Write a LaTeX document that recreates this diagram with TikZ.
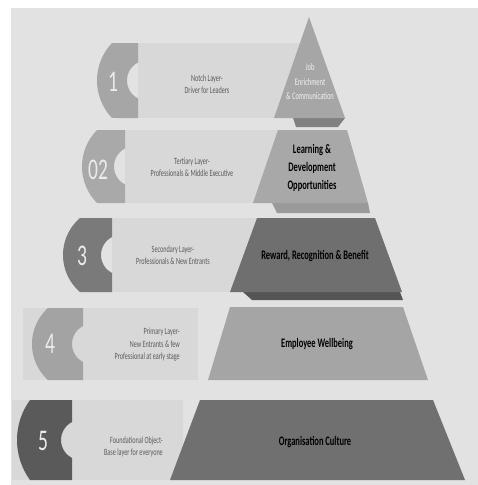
\documentclass[tikz,border=0pt]{standalone}
\usepackage{fontspec}
\setmainfont[FakeStretch=0.65]{Carlito}
\definecolor{bgc}{HTML}{E2E2E2}
\definecolor{boxc}{HTML}{D8D8D8}
\definecolor{tabA}{HTML}{A6A6A6}
\definecolor{tabB}{HTML}{A9A9A9}
\definecolor{tabC}{HTML}{7A7A7A}
\definecolor{tabD}{HTML}{A3A3A3}
\definecolor{tabE}{HTML}{5A5A5A}
\definecolor{layA}{HTML}{A6A6A6}
\definecolor{layB}{HTML}{A8A8A8}
\definecolor{layC}{HTML}{6F6F6F}
\definecolor{layD}{HTML}{A5A5A5}
\definecolor{layE}{HTML}{707070}
\definecolor{shA}{HTML}{808080}
\definecolor{shB}{HTML}{9A9A9A}
\definecolor{shC}{HTML}{555555}
\definecolor{smalltxt}{HTML}{5A5A5A}
\newcommand\mytab[6]{%
  \pgfmathsetmacro\tabH{(#4-#3)/2}%
  \pgfmathsetmacro\tabR{(\tabH*\tabH+#5*#5)/(2*#5)}%
  \pgfmathsetmacro\tabP{asin(\tabH/\tabR)}%
  \pgfmathsetmacro\tabM{-(#3+#4)/2}%
  \fill[#6] (#2,-#3) -- ({#1+#5},-#3)
    arc[start angle={180-\tabP}, end angle={180+\tabP}, radius=\tabR pt]
    -- (#2,-#4) -- (#2,\tabM-18)
    arc[start angle=243, end angle=117, radius=20.2pt] -- cycle;
}
\tikzset{
  numtxt/.style={text=white!92!black, font=\fontsize{30}{30}\selectfont, inner sep=0pt},
  smalltx/.style={text=smalltxt, font=\fontsize{9.5}{12.5}\selectfont, align=center, inner sep=0pt},
  smallr/.style={smalltx, align=right, anchor=east},
  boldtx/.style={text=black, font=\fontsize{13}{18}\selectfont\bfseries, align=center, inner sep=0pt},
  tritx/.style={text=white!95!black, font=\fontsize{10}{14.5}\selectfont, align=center, inner sep=0pt},
}
\begin{document}
\begin{tikzpicture}[x=1pt,y=1pt]
\useasboundingbox (0,0) rectangle (478,-485);
\fill[white] (0,0) rectangle (478,-485);
\fill[bgc] (11,-8) rectangle (478,-485);

% Row 1
\fill[boxc] (138,-43) rectangle (300,-118);
\mytab{97}{138}{43}{118}{15}{tabA}
\fill[shA] (293,-118) -- (345,-118) -- (338,-127) -- (296,-127) -- cycle;
\fill[layA] (309,-17) -- (345,-118) -- (274,-118) -- cycle;
\node[numtxt] (n1) at (113,-82) {1};
\node[smalltx] (d1) at (207,-84) {Notch Layer-\\Driver for Leaders};
\node[tritx] (t1) at (310,-82) {Job\\Enrichment\\\& Communication};

% Row 2
\fill[boxc] (125,-130) rectangle (282,-203);
\mytab{82}{125}{130}{203}{15}{tabB}
\fill[shB] (272,-203) -- (368,-203) -- (370,-213) -- (277,-213) -- cycle;
\fill[layB] (278,-130) -- (347,-130) -- (368,-203) -- (253,-203) -- cycle;
\node[numtxt] (n2) at (98,-170) {02};
\node[smalltx] (d2) at (192,-167) {Tertiary Layer-\\Professionals \& Middle Executive};
\node[boldtx] (t2) at (312,-168) {Learning \&\\Development\\Opportunities};

% Row 3
\fill[boxc] (112,-218) rectangle (258,-292);
\mytab{63}{112}{218}{292}{17}{tabC}
\fill[shC] (243,-292) -- (400,-292) -- (403,-300) -- (252,-300) -- cycle;
\fill[layC] (257,-218) -- (375,-218) -- (402,-292) -- (230,-292) -- cycle;
\node[numtxt] (n3) at (82,-256) {3};
\node[smalltx] (d3) at (173,-255) {Secondary Layer-\\Professionals \& New Entrants};
\node[boldtx] (t3) at (315,-256) {Reward, Recognition \& Benefit};

% Row 4
\fill[boxc] (23,-308) rectangle (198,-380);
\mytab{32}{83}{308}{380}{16}{tabD}
\fill[layD] (230,-307) -- (403,-307) -- (428,-380) -- (208,-380) -- cycle;
\node[numtxt] (n4) at (50,-344) {4};
\node[smallr] (d4) at (180,-345) {Primary Layer-\\New Entrants \& few\\Professional at early stage};
\node[boldtx] (t4) at (317,-344) {Employee Wellbeing};

% Row 5
\fill[boxc] (12,-400) rectangle (183,-480);
\mytab{17}{72}{400}{480}{13}{tabE}
\fill[layE] (200,-400) -- (433,-400) -- (465,-480) -- (170,-480) -- cycle;
\node[numtxt] (n5) at (43,-441) {5};
\node[smallr] (d5) at (163,-447) {Foundational Object-\\Base layer for everyone};
\node[boldtx] (t5) at (315,-442) {Organisation Culture};
\end{tikzpicture}
\end{document}
